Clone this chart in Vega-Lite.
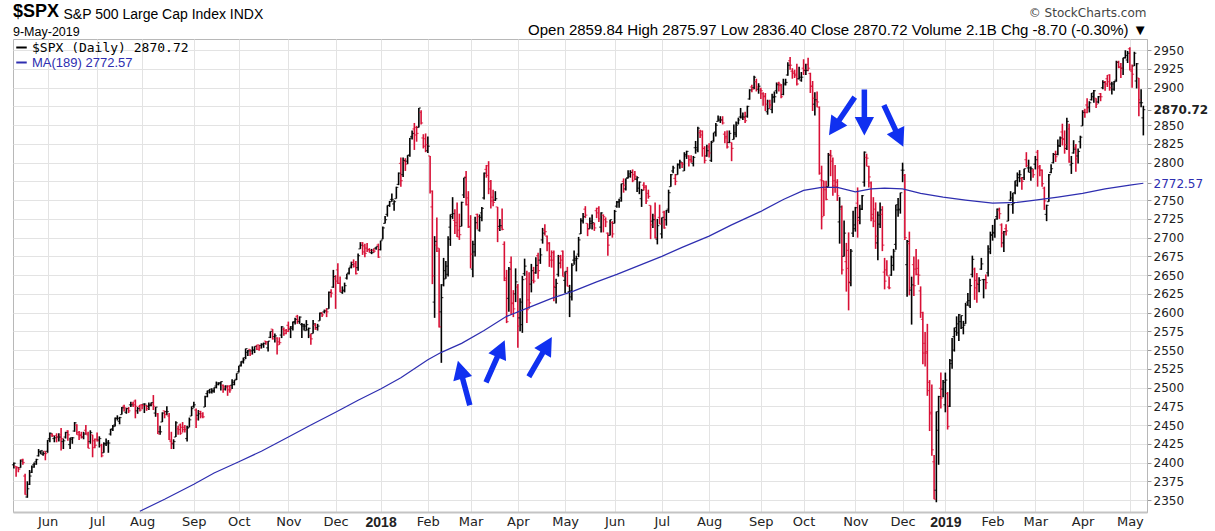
{
"$schema":"https://vega.github.io/schema/vega-lite/v6.json",
"width":1134,"height":473,
"autosize":{"type":"none"},
"padding":{"left":13,"top":39,"right":68,"bottom":19},
"background":"white",
"title":{"text":"$SPX","subtitle":"9-May-2019","anchor":"start","frame":"group","font":"Liberation Sans","fontSize":18,"fontWeight":"bold","color":"#000000","subtitleFont":"Liberation Sans","subtitleFontSize":12.5,"subtitleColor":"#000000","subtitlePadding":5,"offset":-32},
"datasets":{
"arrows":[
{"d":"2018-02-26","v":2506,"a":345},
{"d":"2018-03-16","v":2535,"a":24},
{"d":"2018-04-16","v":2541,"a":30},
{"d":"2018-10-24","v":2862,"a":214},
{"d":"2018-11-07","v":2867,"a":180},
{"d":"2018-11-27","v":2849,"a":155}
],
"px":[
{"d":"2017-05-10","o":2397,"h":2400,"l":2392,"c":2399},
{"d":"2017-05-11","o":2395,"h":2395,"l":2381,"c":2394},
{"d":"2017-05-12","o":2393,"h":2394,"l":2387,"c":2391},
{"d":"2017-05-15","o":2393,"h":2404,"l":2393,"c":2402},
{"d":"2017-05-16","o":2404,"h":2405,"l":2397,"c":2400},
{"d":"2017-05-17","o":2382,"h":2385,"l":2357,"c":2357},
{"d":"2017-05-18","o":2354,"h":2375,"l":2353,"c":2365},
{"d":"2017-05-19","o":2371,"h":2390,"l":2370,"c":2382},
{"d":"2017-05-22","o":2387,"h":2396,"l":2386,"c":2394},
{"d":"2017-05-23","o":2397,"h":2400,"l":2393,"c":2398},
{"d":"2017-05-24","o":2401,"h":2405,"l":2397,"c":2404},
{"d":"2017-05-25","o":2409,"h":2418,"l":2408,"c":2415},
{"d":"2017-05-26","o":2414,"h":2416,"l":2411,"c":2416},
{"d":"2017-05-30","o":2411,"h":2415,"l":2409,"c":2412},
{"d":"2017-05-31","o":2415,"h":2415,"l":2403,"c":2412},
{"d":"2017-06-01","o":2415,"h":2430,"l":2413,"c":2430},
{"d":"2017-06-02","o":2432,"h":2440,"l":2427,"c":2439},
{"d":"2017-06-05","o":2437,"h":2439,"l":2434,"c":2436},
{"d":"2017-06-06","o":2432,"h":2436,"l":2427,"c":2433},
{"d":"2017-06-07","o":2436,"h":2439,"l":2427,"c":2434},
{"d":"2017-06-08","o":2434,"h":2439,"l":2428,"c":2434},
{"d":"2017-06-09","o":2437,"h":2446,"l":2416,"c":2432},
{"d":"2017-06-12","o":2428,"h":2432,"l":2418,"c":2429},
{"d":"2017-06-13","o":2434,"h":2441,"l":2432,"c":2440},
{"d":"2017-06-14","o":2442,"h":2443,"l":2429,"c":2437},
{"d":"2017-06-15","o":2424,"h":2433,"l":2418,"c":2433},
{"d":"2017-06-16","o":2431,"h":2434,"l":2425,"c":2433},
{"d":"2017-06-19","o":2442,"h":2454,"l":2441,"c":2453},
{"d":"2017-06-20","o":2450,"h":2451,"l":2437,"c":2437},
{"d":"2017-06-21","o":2440,"h":2442,"l":2430,"c":2436},
{"d":"2017-06-22","o":2437,"h":2441,"l":2432,"c":2434},
{"d":"2017-06-23","o":2434,"h":2441,"l":2431,"c":2438},
{"d":"2017-06-26","o":2443,"h":2450,"l":2437,"c":2439},
{"d":"2017-06-27","o":2437,"h":2441,"l":2419,"c":2419},
{"d":"2017-06-28","o":2428,"h":2443,"l":2425,"c":2440},
{"d":"2017-06-29","o":2437,"h":2437,"l":2407,"c":2420},
{"d":"2017-06-30","o":2429,"h":2432,"l":2419,"c":2423},
{"d":"2017-07-03","o":2431,"h":2440,"l":2428,"c":2429},
{"d":"2017-07-05","o":2430,"h":2435,"l":2420,"c":2432},
{"d":"2017-07-06","o":2423,"h":2425,"l":2407,"c":2409},
{"d":"2017-07-07","o":2413,"h":2427,"l":2413,"c":2425},
{"d":"2017-07-10","o":2425,"h":2432,"l":2422,"c":2427},
{"d":"2017-07-11","o":2425,"h":2430,"l":2413,"c":2426},
{"d":"2017-07-12","o":2438,"h":2445,"l":2436,"c":2444},
{"d":"2017-07-13","o":2445,"h":2450,"l":2442,"c":2448},
{"d":"2017-07-14","o":2450,"h":2460,"l":2448,"c":2459},
{"d":"2017-07-17","o":2459,"h":2463,"l":2456,"c":2459},
{"d":"2017-07-18","o":2455,"h":2461,"l":2451,"c":2460},
{"d":"2017-07-19","o":2464,"h":2474,"l":2464,"c":2473},
{"d":"2017-07-20","o":2475,"h":2477,"l":2468,"c":2473},
{"d":"2017-07-21","o":2467,"h":2473,"l":2465,"c":2472},
{"d":"2017-07-24","o":2472,"h":2474,"l":2466,"c":2469},
{"d":"2017-07-25","o":2477,"h":2481,"l":2474,"c":2477},
{"d":"2017-07-26","o":2479,"h":2481,"l":2474,"c":2477},
{"d":"2017-07-27","o":2482,"h":2484,"l":2459,"c":2475},
{"d":"2017-07-28","o":2469,"h":2474,"l":2465,"c":2472},
{"d":"2017-07-31","o":2475,"h":2477,"l":2468,"c":2470,"ma":2335},
{"d":"2017-08-01","o":2477,"h":2478,"l":2471,"c":2476},
{"d":"2017-08-02","o":2478,"h":2479,"l":2466,"c":2478},
{"d":"2017-08-03","o":2476,"h":2477,"l":2469,"c":2472},
{"d":"2017-08-04","o":2475,"h":2480,"l":2470,"c":2476},
{"d":"2017-08-07","o":2477,"h":2480,"l":2475,"c":2480},
{"d":"2017-08-08","o":2478,"h":2490,"l":2470,"c":2475},
{"d":"2017-08-09","o":2466,"h":2474,"l":2461,"c":2474},
{"d":"2017-08-10","o":2465,"h":2466,"l":2438,"c":2438},
{"d":"2017-08-11","o":2441,"h":2449,"l":2437,"c":2441},
{"d":"2017-08-14","o":2454,"h":2467,"l":2454,"c":2466},
{"d":"2017-08-15","o":2469,"h":2469,"l":2459,"c":2464,"ma":2351},
{"d":"2017-08-16","o":2468,"h":2475,"l":2463,"c":2468},
{"d":"2017-08-17","o":2462,"h":2466,"l":2430,"c":2430},
{"d":"2017-08-18","o":2428,"h":2441,"l":2418,"c":2426},
{"d":"2017-08-21","o":2425,"h":2431,"l":2418,"c":2428},
{"d":"2017-08-22","o":2434,"h":2455,"l":2434,"c":2453},
{"d":"2017-08-23","o":2445,"h":2449,"l":2437,"c":2444},
{"d":"2017-08-24","o":2450,"h":2452,"l":2437,"c":2439},
{"d":"2017-08-25","o":2447,"h":2454,"l":2440,"c":2444},
{"d":"2017-08-28","o":2447,"h":2450,"l":2440,"c":2444},
{"d":"2017-08-29","o":2432,"h":2449,"l":2428,"c":2446},
{"d":"2017-08-30","o":2447,"h":2460,"l":2447,"c":2457},
{"d":"2017-08-31","o":2462,"h":2475,"l":2462,"c":2472},
{"d":"2017-09-01","o":2475,"h":2481,"l":2473,"c":2477,"ma":2371},
{"d":"2017-09-05","o":2470,"h":2472,"l":2446,"c":2458},
{"d":"2017-09-06","o":2463,"h":2470,"l":2456,"c":2465},
{"d":"2017-09-07","o":2468,"h":2469,"l":2459,"c":2465},
{"d":"2017-09-08","o":2462,"h":2467,"l":2459,"c":2461},
{"d":"2017-09-11","o":2474,"h":2489,"l":2474,"c":2488},
{"d":"2017-09-12","o":2492,"h":2496,"l":2487,"c":2496},
{"d":"2017-09-13","o":2494,"h":2498,"l":2492,"c":2498},
{"d":"2017-09-14","o":2494,"h":2499,"l":2492,"c":2495},
{"d":"2017-09-15","o":2496,"h":2500,"l":2493,"c":2500,"ma":2386},
{"d":"2017-09-18","o":2502,"h":2508,"l":2499,"c":2504},
{"d":"2017-09-19","o":2506,"h":2507,"l":2503,"c":2506},
{"d":"2017-09-20","o":2506,"h":2508,"l":2496,"c":2508},
{"d":"2017-09-21","o":2503,"h":2504,"l":2493,"c":2501},
{"d":"2017-09-22","o":2498,"h":2503,"l":2496,"c":2502},
{"d":"2017-09-25","o":2500,"h":2503,"l":2489,"c":2497},
{"d":"2017-09-26","o":2502,"h":2503,"l":2493,"c":2497},
{"d":"2017-09-27","o":2503,"h":2511,"l":2498,"c":2507},
{"d":"2017-09-28","o":2504,"h":2510,"l":2503,"c":2510},
{"d":"2017-09-29","o":2511,"h":2519,"l":2510,"c":2519},
{"d":"2017-10-02","o":2521,"h":2529,"l":2520,"c":2529,"ma":2401},
{"d":"2017-10-03","o":2530,"h":2535,"l":2528,"c":2535},
{"d":"2017-10-04","o":2534,"h":2540,"l":2532,"c":2537},
{"d":"2017-10-05","o":2540,"h":2552,"l":2538,"c":2552},
{"d":"2017-10-06","o":2547,"h":2550,"l":2542,"c":2549},
{"d":"2017-10-09","o":2551,"h":2551,"l":2542,"c":2545},
{"d":"2017-10-10","o":2549,"h":2555,"l":2544,"c":2550},
{"d":"2017-10-11","o":2550,"h":2555,"l":2546,"c":2555},
{"d":"2017-10-12","o":2555,"h":2557,"l":2550,"c":2551},
{"d":"2017-10-13","o":2557,"h":2557,"l":2549,"c":2553},
{"d":"2017-10-16","o":2556,"h":2559,"l":2552,"c":2558,"ma":2415},
{"d":"2017-10-17","o":2557,"h":2560,"l":2553,"c":2559},
{"d":"2017-10-18","o":2562,"h":2562,"l":2557,"c":2561},
{"d":"2017-10-19","o":2553,"h":2562,"l":2548,"c":2562},
{"d":"2017-10-20","o":2567,"h":2575,"l":2566,"c":2575},
{"d":"2017-10-23","o":2578,"h":2578,"l":2564,"c":2565},
{"d":"2017-10-24","o":2568,"h":2572,"l":2560,"c":2569},
{"d":"2017-10-25","o":2566,"h":2567,"l":2544,"c":2557},
{"d":"2017-10-26","o":2561,"h":2567,"l":2557,"c":2560},
{"d":"2017-10-27","o":2570,"h":2582,"l":2566,"c":2581},
{"d":"2017-10-30","o":2578,"h":2580,"l":2569,"c":2572},
{"d":"2017-10-31","o":2576,"h":2578,"l":2571,"c":2575},
{"d":"2017-11-01","o":2583,"h":2588,"l":2574,"c":2579,"ma":2434},
{"d":"2017-11-02","o":2578,"h":2582,"l":2566,"c":2579},
{"d":"2017-11-03","o":2581,"h":2588,"l":2576,"c":2587},
{"d":"2017-11-06","o":2588,"h":2593,"l":2584,"c":2591},
{"d":"2017-11-07","o":2595,"h":2597,"l":2585,"c":2590},
{"d":"2017-11-08","o":2588,"h":2595,"l":2585,"c":2594},
{"d":"2017-11-09","o":2584,"h":2586,"l":2566,"c":2584},
{"d":"2017-11-10","o":2582,"h":2585,"l":2576,"c":2582},
{"d":"2017-11-13","o":2576,"h":2590,"l":2576,"c":2584},
{"d":"2017-11-14","o":2577,"h":2580,"l":2566,"c":2579},
{"d":"2017-11-15","o":2569,"h":2572,"l":2557,"c":2565,"ma":2450},
{"d":"2017-11-16","o":2572,"h":2590,"l":2572,"c":2585},
{"d":"2017-11-17","o":2583,"h":2586,"l":2577,"c":2578},
{"d":"2017-11-20","o":2580,"h":2585,"l":2576,"c":2582},
{"d":"2017-11-21","o":2589,"h":2600,"l":2589,"c":2599},
{"d":"2017-11-22","o":2600,"h":2600,"l":2594,"c":2597},
{"d":"2017-11-24","o":2601,"h":2604,"l":2599,"c":2602},
{"d":"2017-11-27","o":2603,"h":2606,"l":2594,"c":2601},
{"d":"2017-11-28","o":2605,"h":2628,"l":2605,"c":2627},
{"d":"2017-11-29","o":2627,"h":2631,"l":2620,"c":2626},
{"d":"2017-11-30","o":2634,"h":2657,"l":2633,"c":2648},
{"d":"2017-12-01","o":2645,"h":2650,"l":2605,"c":2642,"ma":2467},
{"d":"2017-12-04","o":2657,"h":2666,"l":2638,"c":2639},
{"d":"2017-12-05","o":2639,"h":2648,"l":2627,"c":2629},
{"d":"2017-12-06","o":2627,"h":2635,"l":2625,"c":2629},
{"d":"2017-12-07","o":2630,"h":2640,"l":2627,"c":2636},
{"d":"2017-12-08","o":2646,"h":2652,"l":2644,"c":2652},
{"d":"2017-12-11","o":2653,"h":2660,"l":2651,"c":2660},
{"d":"2017-12-12","o":2662,"h":2668,"l":2659,"c":2664},
{"d":"2017-12-13","o":2667,"h":2671,"l":2660,"c":2662},
{"d":"2017-12-14","o":2665,"h":2669,"l":2651,"c":2652},
{"d":"2017-12-15","o":2660,"h":2679,"l":2656,"c":2676,"ma":2483},
{"d":"2017-12-18","o":2685,"h":2694,"l":2685,"c":2690},
{"d":"2017-12-19","o":2693,"h":2694,"l":2677,"c":2681},
{"d":"2017-12-20","o":2689,"h":2692,"l":2674,"c":2679},
{"d":"2017-12-21","o":2686,"h":2693,"l":2681,"c":2684},
{"d":"2017-12-22","o":2684,"h":2686,"l":2680,"c":2683},
{"d":"2017-12-26","o":2680,"h":2685,"l":2678,"c":2680},
{"d":"2017-12-27","o":2683,"h":2686,"l":2680,"c":2682},
{"d":"2017-12-28","o":2686,"h":2688,"l":2684,"c":2688},
{"d":"2017-12-29","o":2690,"h":2692,"l":2673,"c":2674},
{"d":"2018-01-02","o":2684,"h":2696,"l":2683,"c":2696,"ma":2498},
{"d":"2018-01-03","o":2698,"h":2715,"l":2698,"c":2713},
{"d":"2018-01-04","o":2719,"h":2729,"l":2719,"c":2724},
{"d":"2018-01-05","o":2731,"h":2743,"l":2728,"c":2743},
{"d":"2018-01-08","o":2743,"h":2749,"l":2741,"c":2748},
{"d":"2018-01-09","o":2751,"h":2759,"l":2748,"c":2751},
{"d":"2018-01-10","o":2745,"h":2750,"l":2736,"c":2748},
{"d":"2018-01-11","o":2752,"h":2768,"l":2752,"c":2767},
{"d":"2018-01-12","o":2771,"h":2787,"l":2770,"c":2786},
{"d":"2018-01-16","o":2799,"h":2807,"l":2768,"c":2776,"ma":2513},
{"d":"2018-01-17","o":2784,"h":2807,"l":2781,"c":2803},
{"d":"2018-01-18","o":2802,"h":2806,"l":2789,"c":2798},
{"d":"2018-01-19","o":2802,"h":2810,"l":2798,"c":2810},
{"d":"2018-01-22","o":2810,"h":2833,"l":2808,"c":2833},
{"d":"2018-01-23","o":2835,"h":2843,"l":2831,"c":2839},
{"d":"2018-01-24","o":2845,"h":2853,"l":2817,"c":2837},
{"d":"2018-01-25","o":2847,"h":2849,"l":2828,"c":2839},
{"d":"2018-01-26","o":2847,"h":2873,"l":2847,"c":2873},
{"d":"2018-01-29","o":2867,"h":2870,"l":2851,"c":2853},
{"d":"2018-01-30","o":2833,"h":2838,"l":2819,"c":2822},
{"d":"2018-01-31","o":2832,"h":2839,"l":2814,"c":2824},
{"d":"2018-02-01","o":2816,"h":2835,"l":2813,"c":2822,"ma":2537},
{"d":"2018-02-02","o":2809,"h":2809,"l":2759,"c":2762},
{"d":"2018-02-05","o":2741,"h":2763,"l":2638,"c":2649},
{"d":"2018-02-06","o":2614,"h":2702,"l":2593,"c":2695},
{"d":"2018-02-07","o":2690,"h":2727,"l":2681,"c":2682},
{"d":"2018-02-08","o":2686,"h":2686,"l":2580,"c":2581},
{"d":"2018-02-09","o":2601,"h":2638,"l":2533,"c":2620,"ma":2547},
{"d":"2018-02-12","o":2637,"h":2673,"l":2635,"c":2656},
{"d":"2018-02-13","o":2645,"h":2669,"l":2645,"c":2662},
{"d":"2018-02-14","o":2651,"h":2702,"l":2648,"c":2698},
{"d":"2018-02-15","o":2714,"h":2731,"l":2689,"c":2731},
{"d":"2018-02-16","o":2728,"h":2754,"l":2725,"c":2732},
{"d":"2018-02-20","o":2723,"h":2738,"l":2705,"c":2716},
{"d":"2018-02-21","o":2720,"h":2747,"l":2701,"c":2701},
{"d":"2018-02-22","o":2710,"h":2732,"l":2697,"c":2704},
{"d":"2018-02-23","o":2715,"h":2748,"l":2715,"c":2747,"ma":2559},
{"d":"2018-02-26","o":2757,"h":2780,"l":2753,"c":2780},
{"d":"2018-02-27","o":2781,"h":2789,"l":2743,"c":2744},
{"d":"2018-02-28","o":2753,"h":2762,"l":2713,"c":2714},
{"d":"2018-03-01","o":2715,"h":2730,"l":2659,"c":2678},
{"d":"2018-03-02","o":2658,"h":2696,"l":2647,"c":2691},
{"d":"2018-03-05","o":2681,"h":2728,"l":2675,"c":2720},
{"d":"2018-03-06","o":2731,"h":2732,"l":2711,"c":2728},
{"d":"2018-03-07","o":2710,"h":2731,"l":2708,"c":2727},
{"d":"2018-03-08","o":2733,"h":2741,"l":2722,"c":2739},
{"d":"2018-03-09","o":2753,"h":2787,"l":2751,"c":2786,"ma":2576},
{"d":"2018-03-12","o":2791,"h":2797,"l":2780,"c":2783},
{"d":"2018-03-13","o":2796,"h":2802,"l":2758,"c":2765},
{"d":"2018-03-14","o":2775,"h":2777,"l":2739,"c":2749},
{"d":"2018-03-15","o":2754,"h":2764,"l":2742,"c":2747},
{"d":"2018-03-16","o":2750,"h":2762,"l":2749,"c":2752},
{"d":"2018-03-19","o":2741,"h":2741,"l":2694,"c":2712},
{"d":"2018-03-20","o":2715,"h":2725,"l":2709,"c":2716},
{"d":"2018-03-21","o":2714,"h":2739,"l":2710,"c":2711},
{"d":"2018-03-22","o":2691,"h":2695,"l":2642,"c":2643},
{"d":"2018-03-23","o":2646,"h":2657,"l":2586,"c":2588,"ma":2595},
{"d":"2018-03-26","o":2619,"h":2661,"l":2601,"c":2658},
{"d":"2018-03-27","o":2667,"h":2675,"l":2597,"c":2613},
{"d":"2018-03-28","o":2612,"h":2630,"l":2594,"c":2605},
{"d":"2018-03-29","o":2625,"h":2659,"l":2614,"c":2641},
{"d":"2018-04-02","o":2634,"h":2638,"l":2553,"c":2582},
{"d":"2018-04-03","o":2593,"h":2619,"l":2575,"c":2614},
{"d":"2018-04-04","o":2584,"h":2649,"l":2573,"c":2644},
{"d":"2018-04-05","o":2652,"h":2672,"l":2649,"c":2662},
{"d":"2018-04-06","o":2645,"h":2656,"l":2586,"c":2604},
{"d":"2018-04-09","o":2617,"h":2654,"l":2605,"c":2613,"ma":2607},
{"d":"2018-04-10","o":2638,"h":2665,"l":2627,"c":2656},
{"d":"2018-04-11","o":2643,"h":2661,"l":2639,"c":2642},
{"d":"2018-04-12","o":2653,"h":2674,"l":2652,"c":2663},
{"d":"2018-04-13","o":2676,"h":2680,"l":2645,"c":2656},
{"d":"2018-04-16","o":2670,"h":2686,"l":2665,"c":2677},
{"d":"2018-04-17","o":2697,"h":2713,"l":2692,"c":2706},
{"d":"2018-04-18","o":2710,"h":2718,"l":2703,"c":2708},
{"d":"2018-04-19","o":2702,"h":2703,"l":2682,"c":2693},
{"d":"2018-04-20","o":2692,"h":2694,"l":2661,"c":2670},
{"d":"2018-04-23","o":2675,"h":2683,"l":2660,"c":2670,"ma":2619},
{"d":"2018-04-24","o":2680,"h":2683,"l":2615,"c":2635},
{"d":"2018-04-25","o":2634,"h":2645,"l":2612,"c":2639},
{"d":"2018-04-26","o":2651,"h":2677,"l":2648,"c":2666},
{"d":"2018-04-27","o":2675,"h":2677,"l":2659,"c":2670},
{"d":"2018-04-30","o":2682,"h":2683,"l":2648,"c":2648},
{"d":"2018-05-01","o":2643,"h":2655,"l":2626,"c":2655},
{"d":"2018-05-02","o":2653,"h":2661,"l":2635,"c":2635},
{"d":"2018-05-03","o":2628,"h":2637,"l":2594,"c":2629},
{"d":"2018-05-04","o":2621,"h":2666,"l":2616,"c":2663},
{"d":"2018-05-07","o":2670,"h":2683,"l":2664,"c":2672,"ma":2629},
{"d":"2018-05-08","o":2670,"h":2676,"l":2655,"c":2672},
{"d":"2018-05-09","o":2678,"h":2701,"l":2674,"c":2697},
{"d":"2018-05-10","o":2705,"h":2726,"l":2705,"c":2723},
{"d":"2018-05-11","o":2722,"h":2733,"l":2719,"c":2728},
{"d":"2018-05-14","o":2738,"h":2742,"l":2726,"c":2730},
{"d":"2018-05-15","o":2719,"h":2719,"l":2702,"c":2711},
{"d":"2018-05-16","o":2712,"h":2727,"l":2712,"c":2722},
{"d":"2018-05-17","o":2719,"h":2731,"l":2711,"c":2720},
{"d":"2018-05-18","o":2718,"h":2720,"l":2709,"c":2713},
{"d":"2018-05-21","o":2736,"h":2740,"l":2726,"c":2733,"ma":2641},
{"d":"2018-05-22","o":2739,"h":2742,"l":2721,"c":2725},
{"d":"2018-05-23","o":2714,"h":2734,"l":2707,"c":2733},
{"d":"2018-05-24","o":2730,"h":2731,"l":2707,"c":2728},
{"d":"2018-05-25","o":2724,"h":2727,"l":2714,"c":2721},
{"d":"2018-05-29","o":2706,"h":2707,"l":2676,"c":2690},
{"d":"2018-05-30","o":2703,"h":2724,"l":2703,"c":2724},
{"d":"2018-05-31","o":2720,"h":2722,"l":2700,"c":2705},
{"d":"2018-06-01","o":2719,"h":2737,"l":2719,"c":2735},
{"d":"2018-06-04","o":2742,"h":2749,"l":2740,"c":2747,"ma":2651},
{"d":"2018-06-05","o":2748,"h":2752,"l":2740,"c":2749},
{"d":"2018-06-06","o":2753,"h":2772,"l":2748,"c":2772},
{"d":"2018-06-07","o":2775,"h":2779,"l":2760,"c":2770},
{"d":"2018-06-08","o":2765,"h":2779,"l":2763,"c":2779},
{"d":"2018-06-11","o":2780,"h":2790,"l":2779,"c":2782},
{"d":"2018-06-12","o":2785,"h":2790,"l":2780,"c":2787},
{"d":"2018-06-13","o":2787,"h":2791,"l":2774,"c":2776},
{"d":"2018-06-14","o":2784,"h":2789,"l":2777,"c":2782},
{"d":"2018-06-15","o":2778,"h":2782,"l":2761,"c":2780},
{"d":"2018-06-18","o":2766,"h":2775,"l":2758,"c":2774,"ma":2663},
{"d":"2018-06-19","o":2752,"h":2765,"l":2741,"c":2763},
{"d":"2018-06-20","o":2770,"h":2774,"l":2763,"c":2767},
{"d":"2018-06-21","o":2769,"h":2770,"l":2745,"c":2749},
{"d":"2018-06-22","o":2759,"h":2764,"l":2752,"c":2755},
{"d":"2018-06-25","o":2743,"h":2743,"l":2698,"c":2717},
{"d":"2018-06-26","o":2722,"h":2732,"l":2713,"c":2724},
{"d":"2018-06-27","o":2729,"h":2747,"l":2699,"c":2700},
{"d":"2018-06-28","o":2698,"h":2725,"l":2691,"c":2716},
{"d":"2018-06-29","o":2727,"h":2744,"l":2718,"c":2718},
{"d":"2018-07-02","o":2705,"h":2727,"l":2699,"c":2727,"ma":2675},
{"d":"2018-07-03","o":2734,"h":2736,"l":2712,"c":2713},
{"d":"2018-07-05","o":2724,"h":2737,"l":2716,"c":2736},
{"d":"2018-07-06","o":2738,"h":2764,"l":2733,"c":2760},
{"d":"2018-07-09","o":2768,"h":2785,"l":2768,"c":2784},
{"d":"2018-07-10","o":2789,"h":2796,"l":2786,"c":2793},
{"d":"2018-07-11","o":2779,"h":2785,"l":2770,"c":2775},
{"d":"2018-07-12","o":2784,"h":2799,"l":2784,"c":2798},
{"d":"2018-07-13","o":2797,"h":2804,"l":2792,"c":2801},
{"d":"2018-07-16","o":2799,"h":2801,"l":2793,"c":2798,"ma":2687},
{"d":"2018-07-17","o":2789,"h":2814,"l":2789,"c":2809},
{"d":"2018-07-18","o":2811,"h":2816,"l":2805,"c":2815},
{"d":"2018-07-19","o":2809,"h":2810,"l":2795,"c":2804},
{"d":"2018-07-20","o":2804,"h":2810,"l":2800,"c":2802},
{"d":"2018-07-23","o":2799,"h":2809,"l":2795,"c":2807},
{"d":"2018-07-24","o":2820,"h":2829,"l":2812,"c":2820},
{"d":"2018-07-25","o":2817,"h":2848,"l":2814,"c":2846},
{"d":"2018-07-26","o":2840,"h":2844,"l":2833,"c":2837},
{"d":"2018-07-27","o":2842,"h":2843,"l":2808,"c":2819},
{"d":"2018-07-30","o":2819,"h":2822,"l":2799,"c":2803},
{"d":"2018-07-31","o":2809,"h":2824,"l":2808,"c":2816},
{"d":"2018-08-01","o":2821,"h":2826,"l":2807,"c":2813,"ma":2702},
{"d":"2018-08-02","o":2803,"h":2829,"l":2801,"c":2827},
{"d":"2018-08-03","o":2829,"h":2840,"l":2828,"c":2840},
{"d":"2018-08-06","o":2841,"h":2853,"l":2835,"c":2850},
{"d":"2018-08-07","o":2855,"h":2863,"l":2855,"c":2858},
{"d":"2018-08-08","o":2856,"h":2862,"l":2853,"c":2857},
{"d":"2018-08-09","o":2857,"h":2862,"l":2851,"c":2853},
{"d":"2018-08-10","o":2838,"h":2842,"l":2826,"c":2833},
{"d":"2018-08-13","o":2835,"h":2843,"l":2819,"c":2821},
{"d":"2018-08-14","o":2827,"h":2843,"l":2826,"c":2839},
{"d":"2018-08-15","o":2827,"h":2827,"l":2802,"c":2819,"ma":2717},
{"d":"2018-08-16","o":2831,"h":2851,"l":2831,"c":2840},
{"d":"2018-08-17","o":2838,"h":2855,"l":2834,"c":2850},
{"d":"2018-08-20","o":2853,"h":2860,"l":2851,"c":2857},
{"d":"2018-08-21","o":2861,"h":2873,"l":2859,"c":2862},
{"d":"2018-08-22","o":2860,"h":2867,"l":2857,"c":2861},
{"d":"2018-08-23","o":2860,"h":2868,"l":2853,"c":2856},
{"d":"2018-08-24","o":2862,"h":2876,"l":2860,"c":2875},
{"d":"2018-08-27","o":2885,"h":2898,"l":2884,"c":2897},
{"d":"2018-08-28","o":2901,"h":2904,"l":2894,"c":2898},
{"d":"2018-08-29","o":2900,"h":2916,"l":2898,"c":2914},
{"d":"2018-08-30","o":2908,"h":2912,"l":2895,"c":2901},
{"d":"2018-08-31","o":2898,"h":2906,"l":2892,"c":2902},
{"d":"2018-09-04","o":2897,"h":2900,"l":2885,"c":2896,"ma":2735},
{"d":"2018-09-05","o":2892,"h":2894,"l":2876,"c":2888},
{"d":"2018-09-06","o":2889,"h":2893,"l":2869,"c":2878},
{"d":"2018-09-07","o":2868,"h":2884,"l":2864,"c":2872},
{"d":"2018-09-10","o":2882,"h":2884,"l":2872,"c":2877},
{"d":"2018-09-11","o":2871,"h":2892,"l":2866,"c":2887},
{"d":"2018-09-12","o":2888,"h":2895,"l":2880,"c":2888},
{"d":"2018-09-13","o":2896,"h":2907,"l":2892,"c":2904},
{"d":"2018-09-14","o":2906,"h":2908,"l":2895,"c":2905},
{"d":"2018-09-17","o":2903,"h":2905,"l":2886,"c":2888},
{"d":"2018-09-18","o":2891,"h":2912,"l":2890,"c":2904,"ma":2751},
{"d":"2018-09-19","o":2906,"h":2912,"l":2903,"c":2907},
{"d":"2018-09-20","o":2917,"h":2934,"l":2916,"c":2930},
{"d":"2018-09-21","o":2936,"h":2941,"l":2924,"c":2930},
{"d":"2018-09-24","o":2922,"h":2926,"l":2912,"c":2919},
{"d":"2018-09-25","o":2921,"h":2924,"l":2913,"c":2916},
{"d":"2018-09-26","o":2918,"h":2932,"l":2903,"c":2905},
{"d":"2018-09-27","o":2912,"h":2928,"l":2911,"c":2914},
{"d":"2018-09-28","o":2910,"h":2921,"l":2908,"c":2914},
{"d":"2018-10-01","o":2926,"h":2938,"l":2917,"c":2924,"ma":2763},
{"d":"2018-10-02","o":2923,"h":2932,"l":2917,"c":2923},
{"d":"2018-10-03","o":2931,"h":2940,"l":2922,"c":2926},
{"d":"2018-10-04","o":2919,"h":2920,"l":2893,"c":2902},
{"d":"2018-10-05","o":2902,"h":2909,"l":2869,"c":2886},
{"d":"2018-10-08","o":2878,"h":2894,"l":2863,"c":2884},
{"d":"2018-10-09","o":2882,"h":2895,"l":2874,"c":2881},
{"d":"2018-10-10","o":2874,"h":2875,"l":2784,"c":2786},
{"d":"2018-10-11","o":2777,"h":2796,"l":2711,"c":2728,"ma":2767},
{"d":"2018-10-12","o":2776,"h":2776,"l":2729,"c":2767},
{"d":"2018-10-15","o":2764,"h":2776,"l":2750,"c":2751},
{"d":"2018-10-16","o":2768,"h":2813,"l":2768,"c":2810},
{"d":"2018-10-17","o":2811,"h":2817,"l":2782,"c":2809},
{"d":"2018-10-18","o":2802,"h":2807,"l":2756,"c":2769},
{"d":"2018-10-19","o":2776,"h":2797,"l":2760,"c":2768},
{"d":"2018-10-22","o":2774,"h":2778,"l":2749,"c":2756,"ma":2767},
{"d":"2018-10-23","o":2721,"h":2754,"l":2692,"c":2741},
{"d":"2018-10-24","o":2738,"h":2743,"l":2651,"c":2657},
{"d":"2018-10-25","o":2675,"h":2723,"l":2675,"c":2706},
{"d":"2018-10-26","o":2668,"h":2693,"l":2628,"c":2659},
{"d":"2018-10-29","o":2683,"h":2707,"l":2603,"c":2641},
{"d":"2018-10-30","o":2640,"h":2685,"l":2635,"c":2682},
{"d":"2018-10-31","o":2706,"h":2736,"l":2701,"c":2712},
{"d":"2018-11-01","o":2717,"h":2741,"l":2708,"c":2740,"ma":2761},
{"d":"2018-11-02","o":2746,"h":2767,"l":2700,"c":2723},
{"d":"2018-11-05","o":2727,"h":2744,"l":2718,"c":2738},
{"d":"2018-11-06","o":2738,"h":2757,"l":2737,"c":2756},
{"d":"2018-11-07","o":2774,"h":2815,"l":2768,"c":2814},
{"d":"2018-11-08","o":2807,"h":2812,"l":2795,"c":2806},
{"d":"2018-11-09","o":2795,"h":2796,"l":2767,"c":2781},
{"d":"2018-11-12","o":2773,"h":2775,"l":2722,"c":2726,"ma":2765},
{"d":"2018-11-13","o":2731,"h":2754,"l":2714,"c":2722},
{"d":"2018-11-14","o":2738,"h":2747,"l":2685,"c":2702},
{"d":"2018-11-15","o":2693,"h":2735,"l":2670,"c":2730},
{"d":"2018-11-16","o":2718,"h":2747,"l":2713,"c":2737},
{"d":"2018-11-19","o":2731,"h":2742,"l":2682,"c":2690},
{"d":"2018-11-20","o":2654,"h":2673,"l":2631,"c":2642,"ma":2766},
{"d":"2018-11-21","o":2657,"h":2670,"l":2649,"c":2649},
{"d":"2018-11-23","o":2634,"h":2648,"l":2631,"c":2633},
{"d":"2018-11-26","o":2650,"h":2676,"l":2649,"c":2674},
{"d":"2018-11-27","o":2663,"h":2685,"l":2656,"c":2682},
{"d":"2018-11-28","o":2691,"h":2744,"l":2684,"c":2744},
{"d":"2018-11-29","o":2737,"h":2753,"l":2728,"c":2738},
{"d":"2018-11-30","o":2737,"h":2760,"l":2732,"c":2760},
{"d":"2018-12-03","o":2790,"h":2800,"l":2774,"c":2790,"ma":2765},
{"d":"2018-12-04","o":2783,"h":2785,"l":2697,"c":2700},
{"d":"2018-12-06","o":2664,"h":2697,"l":2621,"c":2695},
{"d":"2018-12-07","o":2692,"h":2708,"l":2623,"c":2633},
{"d":"2018-12-10","o":2630,"h":2648,"l":2584,"c":2637},
{"d":"2018-12-11","o":2664,"h":2675,"l":2622,"c":2636},
{"d":"2018-12-12","o":2658,"h":2685,"l":2650,"c":2651},
{"d":"2018-12-13","o":2659,"h":2671,"l":2637,"c":2650},
{"d":"2018-12-14","o":2629,"h":2635,"l":2593,"c":2600,"ma":2759},
{"d":"2018-12-17","o":2591,"h":2601,"l":2531,"c":2546},
{"d":"2018-12-18","o":2559,"h":2574,"l":2528,"c":2546},
{"d":"2018-12-19","o":2548,"h":2585,"l":2489,"c":2507},
{"d":"2018-12-20","o":2496,"h":2510,"l":2442,"c":2467},
{"d":"2018-12-21","o":2465,"h":2504,"l":2409,"c":2417},
{"d":"2018-12-24","o":2401,"h":2410,"l":2351,"c":2351},
{"d":"2018-12-26","o":2363,"h":2468,"l":2347,"c":2468},
{"d":"2018-12-27","o":2443,"h":2489,"l":2397,"c":2488},
{"d":"2018-12-28","o":2499,"h":2520,"l":2472,"c":2486},
{"d":"2018-12-31","o":2498,"h":2510,"l":2487,"c":2507,"ma":2754},
{"d":"2019-01-02","o":2477,"h":2520,"l":2467,"c":2510},
{"d":"2019-01-03","o":2492,"h":2494,"l":2444,"c":2448},
{"d":"2019-01-04","o":2475,"h":2538,"l":2474,"c":2532},
{"d":"2019-01-07","o":2536,"h":2566,"l":2525,"c":2550},
{"d":"2019-01-08","o":2568,"h":2580,"l":2548,"c":2575},
{"d":"2019-01-09","o":2580,"h":2595,"l":2569,"c":2585},
{"d":"2019-01-10","o":2573,"h":2598,"l":2562,"c":2597},
{"d":"2019-01-11","o":2588,"h":2596,"l":2578,"c":2596},
{"d":"2019-01-14","o":2580,"h":2589,"l":2571,"c":2583},
{"d":"2019-01-15","o":2585,"h":2613,"l":2585,"c":2610,"ma":2750},
{"d":"2019-01-16","o":2614,"h":2626,"l":2609,"c":2616},
{"d":"2019-01-17","o":2609,"h":2645,"l":2606,"c":2636},
{"d":"2019-01-18","o":2651,"h":2676,"l":2647,"c":2671},
{"d":"2019-01-22","o":2658,"h":2660,"l":2617,"c":2633},
{"d":"2019-01-23","o":2643,"h":2653,"l":2613,"c":2639},
{"d":"2019-01-24","o":2638,"h":2647,"l":2627,"c":2643},
{"d":"2019-01-25","o":2658,"h":2673,"l":2657,"c":2665},
{"d":"2019-01-28","o":2644,"h":2645,"l":2619,"c":2644},
{"d":"2019-01-29","o":2644,"h":2651,"l":2631,"c":2640},
{"d":"2019-01-30","o":2653,"h":2690,"l":2648,"c":2681},
{"d":"2019-01-31","o":2685,"h":2708,"l":2678,"c":2704},
{"d":"2019-02-01","o":2703,"h":2717,"l":2696,"c":2707,"ma":2746},
{"d":"2019-02-04","o":2706,"h":2725,"l":2700,"c":2725},
{"d":"2019-02-05","o":2728,"h":2739,"l":2724,"c":2738},
{"d":"2019-02-06","o":2736,"h":2740,"l":2725,"c":2732},
{"d":"2019-02-07","o":2717,"h":2719,"l":2687,"c":2706},
{"d":"2019-02-08","o":2693,"h":2709,"l":2681,"c":2708},
{"d":"2019-02-11","o":2712,"h":2718,"l":2703,"c":2709},
{"d":"2019-02-12","o":2722,"h":2745,"l":2722,"c":2744},
{"d":"2019-02-13","o":2750,"h":2762,"l":2749,"c":2753},
{"d":"2019-02-14","o":2744,"h":2760,"l":2732,"c":2746},
{"d":"2019-02-15","o":2760,"h":2776,"l":2758,"c":2776},
{"d":"2019-02-19","o":2770,"h":2787,"l":2768,"c":2780,"ma":2747},
{"d":"2019-02-20","o":2784,"h":2790,"l":2774,"c":2784},
{"d":"2019-02-21","o":2779,"h":2781,"l":2764,"c":2775},
{"d":"2019-02-22","o":2780,"h":2792,"l":2777,"c":2792},
{"d":"2019-02-25","o":2804,"h":2814,"l":2794,"c":2796},
{"d":"2019-02-26","o":2793,"h":2804,"l":2787,"c":2793},
{"d":"2019-02-27","o":2787,"h":2795,"l":2776,"c":2792},
{"d":"2019-02-28","o":2789,"h":2792,"l":2780,"c":2784},
{"d":"2019-03-01","o":2798,"h":2809,"l":2791,"c":2804,"ma":2750},
{"d":"2019-03-04","o":2814,"h":2817,"l":2768,"c":2793},
{"d":"2019-03-05","o":2795,"h":2797,"l":2782,"c":2790},
{"d":"2019-03-06","o":2790,"h":2791,"l":2768,"c":2772},
{"d":"2019-03-07","o":2766,"h":2768,"l":2737,"c":2749},
{"d":"2019-03-08","o":2731,"h":2744,"l":2722,"c":2743},
{"d":"2019-03-11","o":2748,"h":2785,"l":2748,"c":2784},
{"d":"2019-03-12","o":2787,"h":2798,"l":2786,"c":2792},
{"d":"2019-03-13","o":2800,"h":2813,"l":2799,"c":2811},
{"d":"2019-03-14","o":2811,"h":2816,"l":2801,"c":2808},
{"d":"2019-03-15","o":2811,"h":2831,"l":2810,"c":2822,"ma":2754},
{"d":"2019-03-18","o":2823,"h":2835,"l":2821,"c":2833},
{"d":"2019-03-19","o":2841,"h":2852,"l":2823,"c":2832},
{"d":"2019-03-20","o":2831,"h":2843,"l":2812,"c":2824},
{"d":"2019-03-21","o":2819,"h":2860,"l":2817,"c":2855},
{"d":"2019-03-22","o":2845,"h":2852,"l":2800,"c":2801},
{"d":"2019-03-25","o":2797,"h":2809,"l":2785,"c":2799},
{"d":"2019-03-26","o":2813,"h":2830,"l":2812,"c":2818},
{"d":"2019-03-27","o":2820,"h":2825,"l":2788,"c":2805},
{"d":"2019-03-28","o":2809,"h":2819,"l":2799,"c":2815},
{"d":"2019-03-29","o":2828,"h":2836,"l":2819,"c":2834},
{"d":"2019-04-01","o":2849,"h":2870,"l":2849,"c":2867,"ma":2759},
{"d":"2019-04-02","o":2869,"h":2872,"l":2860,"c":2867},
{"d":"2019-04-03","o":2877,"h":2886,"l":2866,"c":2873},
{"d":"2019-04-04","o":2874,"h":2882,"l":2867,"c":2880},
{"d":"2019-04-05","o":2884,"h":2893,"l":2883,"c":2893},
{"d":"2019-04-08","o":2888,"h":2897,"l":2880,"c":2896},
{"d":"2019-04-09","o":2886,"h":2886,"l":2873,"c":2878},
{"d":"2019-04-10","o":2881,"h":2889,"l":2879,"c":2888},
{"d":"2019-04-11","o":2892,"h":2893,"l":2882,"c":2888},
{"d":"2019-04-12","o":2900,"h":2910,"l":2898,"c":2907},
{"d":"2019-04-15","o":2908,"h":2909,"l":2896,"c":2905,"ma":2765},
{"d":"2019-04-16","o":2912,"h":2917,"l":2901,"c":2908},
{"d":"2019-04-17","o":2917,"h":2918,"l":2896,"c":2900},
{"d":"2019-04-18","o":2905,"h":2908,"l":2891,"c":2905},
{"d":"2019-04-22","o":2898,"h":2909,"l":2896,"c":2908},
{"d":"2019-04-23","o":2910,"h":2936,"l":2908,"c":2934},
{"d":"2019-04-24","o":2934,"h":2936,"l":2926,"c":2927},
{"d":"2019-04-25","o":2928,"h":2933,"l":2913,"c":2926},
{"d":"2019-04-26","o":2926,"h":2940,"l":2917,"c":2940},
{"d":"2019-04-29","o":2940,"h":2950,"l":2939,"c":2943},
{"d":"2019-04-30","o":2937,"h":2949,"l":2933,"c":2946},
{"d":"2019-05-01","o":2952,"h":2954,"l":2923,"c":2924,"ma":2770},
{"d":"2019-05-02","o":2922,"h":2931,"l":2900,"c":2918},
{"d":"2019-05-03","o":2929,"h":2948,"l":2929,"c":2946},
{"d":"2019-05-06","o":2909,"h":2933,"l":2899,"c":2932},
{"d":"2019-05-07","o":2913,"h":2913,"l":2862,"c":2884},
{"d":"2019-05-08","o":2880,"h":2898,"l":2874,"c":2880},
{"d":"2019-05-09","o":2859.84,"h":2875.97,"l":2836.4,"c":2870.72,"ma":2772.57}
]},
"data":{"name":"px"},
"resolve":{"axis":{"x":"independent","y":"independent"}},
"layer":[
{"mark":{"type":"rule","strokeWidth":1.6},
 "encoding":{
  "x":{"field":"d","type":"ordinal","scale":{"type":"point","padding":1.53,"align":0.19},
   "axis":{"orient":"bottom","values":["2017-06-01","2017-07-03","2017-08-01","2017-09-01","2017-10-02","2017-11-01","2017-12-01","2018-01-02","2018-02-01","2018-03-01","2018-04-02","2018-05-01","2018-06-01","2018-07-02","2018-08-01","2018-09-04","2018-10-01","2018-11-01","2018-12-03","2019-01-02","2019-02-01","2019-03-01","2019-04-01","2019-05-01"],
    "labelExpr":"slice(datum.value,5,7)=='01' ? slice(datum.value,0,4) : ['Jan','Feb','Mar','Apr','May','Jun','Jul','Aug','Sep','Oct','Nov','Dec'][toNumber(slice(datum.value,5,7))-1]",
    "labelAngle":0,"ticks":false,"grid":true,"gridColor":"#e3e3e3","domainColor":"#c4c4c4","domainWidth":2,"labelPadding":3,
    "labelFont":{"condition":{"test":"slice(datum.value,5,7)=='01'","value":"Liberation Sans"},"value":"DejaVu Sans"},
    "labelFontSize":{"condition":{"test":"slice(datum.value,5,7)=='01'","value":14},"value":13},
    "labelFontWeight":{"condition":{"test":"slice(datum.value,5,7)=='01'","value":"bold"},"value":"normal"},
    "labelColor":"#222222","labelOverlap":false,"title":null}},
  "y":{"field":"l","type":"quantitative","scale":{"domain":[2334,2965],"nice":false,"zero":false},
   "axis":{"orient":"right","values":[2350,2375,2400,2425,2450,2475,2500,2525,2550,2575,2600,2625,2650,2675,2700,2725,2750,2772.57,2800,2825,2850,2870.72,2900,2925,2950],
    "labelExpr":"datum.value == 2870.72 || datum.value == 2772.57 ? format(datum.value, '.2f') : format(datum.value, 'd')",
    "grid":false,"tickSize":4,"tickColor":"#999999","domainColor":"#b8b8b8","labelPadding":2,"labelFont":"DejaVu Sans","labelFontSize":12,
    "labelFontWeight":{"condition":{"test":"datum.value == 2870.72","value":"bold"},"value":"normal"},
    "labelColor":{"condition":{"test":"datum.value == 2772.57","value":"#2e2eb0"},"value":"#222222"},
    "labelOverlap":false,"labelFlush":false,
    "title":"© StockCharts.com","titleAngle":0,"titleX":-1,"titleY":-23,"titleAlign":"right","titleBaseline":"alphabetic","titleFont":"DejaVu Sans","titleFontSize":12,"titleFontWeight":"normal","titleColor":"#444444"}},
  "y2":{"field":"h"},
  "color":{"condition":{"test":"datum.c >= datum.o","value":"#000000"},"value":"#d81036"}
 }},
{"transform":[{"filter":"isValid(datum.ma)"}],
 "mark":{"type":"line","strokeWidth":1.2,"clip":true},
 "encoding":{
  "x":{"field":"d","type":"ordinal",
   "axis":{"orient":"top","labels":false,"ticks":false,"domain":false,"grid":false,
    "title":"Open 2859.84  High 2875.97  Low 2836.40  Close 2870.72  Volume 2.1B  Chg -8.70 (-0.30%) ▼",
    "titleAnchor":"end","titleAlign":"right","titlePadding":5,"titleBaseline":"alphabetic","titleFont":"Liberation Sans","titleFontSize":15,"titleFontWeight":"normal","titleColor":"#000000"}},
  "y":{"field":"ma","type":"quantitative",
   "axis":{"orient":"left","values":[2350,2375,2400,2425,2450,2475,2500,2525,2550,2575,2600,2625,2650,2675,2700,2725,2750,2775,2800,2825,2850,2875,2900,2925,2950],
    "labels":false,"ticks":false,"domain":false,"grid":true,"gridColor":"#e3e3e3",
    "title":"S&P 500 Large Cap Index  INDX","titleAngle":0,"titleX":50,"titleY":-21,"titleAlign":"left","titleBaseline":"alphabetic","titleFont":"Liberation Sans","titleFontSize":14,"titleFontWeight":"normal","titleColor":"#000000"}},
  "color":{"datum":"MA(189) 2772.57","type":"nominal",
   "scale":{"domain":["$SPX (Daily) 2870.72","MA(189) 2772.57"],"range":["#000000","#2e2eb0"]},
   "legend":{"orient":"top-left","title":null,"offset":1,"padding":1,"rowPadding":1,"labelFont":"Liberation Sans","labelFontSize":13,"labelOffset":4,"symbolSize":110,"symbolStrokeWidth":2,
    "encode":{"labels":{"update":{"fill":{"signal":"datum.value == 'MA(189) 2772.57' ? '#2e2eb0' : '#000000'"},"font":{"signal":"datum.value == 'MA(189) 2772.57' ? 'Liberation Sans' : 'DejaVu Sans Mono'"}}}}}}
 }},
{"mark":{"type":"tick","thickness":1.2,"size":2,"xOffset":-1},
 "encoding":{
  "x":{"field":"d","type":"ordinal","axis":null},
  "y":{"field":"o","type":"quantitative","axis":null},
  "color":{"condition":{"test":"datum.c >= datum.o","value":"#000000"},"value":"#d81036"}}},
{"mark":{"type":"tick","thickness":1.2,"size":2,"xOffset":1},
 "encoding":{
  "x":{"field":"d","type":"ordinal","axis":null},
  "y":{"field":"c","type":"quantitative","axis":null},
  "color":{"condition":{"test":"datum.c >= datum.o","value":"#000000"},"value":"#d81036"}}},
{"data":{"name":"arrows"},
 "mark":{"type":"point","shape":"M0,-1L0.42,-0.2L0.12,-0.2L0.12,1L-0.12,1L-0.12,-0.2L-0.42,-0.2Z","filled":true,"size":2116,"color":"#1030f0","opacity":1,"strokeWidth":0},
 "encoding":{
  "x":{"field":"d","type":"ordinal","axis":null},
  "y":{"field":"v","type":"quantitative","axis":null},
  "angle":{"field":"a","type":"quantitative","scale":null}}}
],
"config":{"font":"Liberation Sans","view":{"stroke":"#b8b8b8","strokeWidth":1}}
}
